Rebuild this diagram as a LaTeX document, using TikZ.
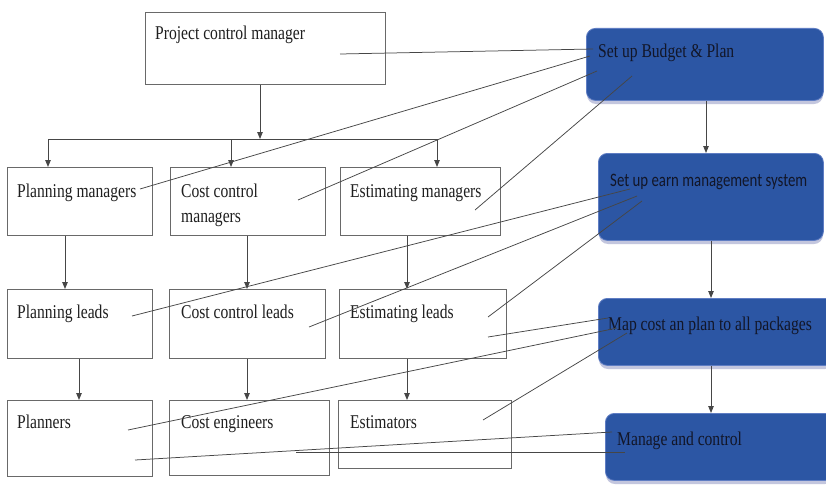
\documentclass[tikz,border=0pt]{standalone}
\usepackage{fontspec}
\usetikzlibrary{arrows.meta}
\newfontfamily\orgfont[FakeStretch=0.8]{Liberation Serif}
\newfontfamily\orgsans[FakeStretch=0.78]{Carlito}
\definecolor{boxline}{RGB}{105,105,105}
\definecolor{linkgrey}{RGB}{70,70,70}
\definecolor{stepblue}{RGB}{44,86,164}
\definecolor{stepedge}{RGB}{95,125,195}
\definecolor{stepshade}{RGB}{195,198,222}
\definecolor{steptext}{RGB}{18,22,40}
\tikzset{
  orgbox/.style={draw=boxline, line width=0.9pt, anchor=north west, inner sep=0pt},
  lbl/.style={anchor=base west, inner sep=0pt, font=\orgfont\fontsize{19.5}{25}\selectfont, text=black!88},
  stepbox/.style={fill=stepblue, draw=stepedge, line width=0.8pt, rounded corners=9pt,
    anchor=north west, inner sep=0pt},
  stepshadow/.style={fill=stepshade, rounded corners=9pt},
  steplbl/.style={anchor=base west, inner sep=0pt, font=\orgfont\fontsize{19.5}{25}\selectfont, text=steptext},
  link/.style={draw=linkgrey, line width=0.75pt},
  down/.style={draw=linkgrey, line width=0.9pt, -{Triangle[length=7pt,width=5.5pt]}},
}
\begin{document}
\begin{tikzpicture}[x=1pt,y=-1pt]
\useasboundingbox[fill=white] (0,0) rectangle (826,487);

% ---------- organisation chart ----------
\node[orgbox, minimum width=240pt, minimum height=72pt] (pcm) at (145,12) {};
\node[lbl] (pcmt) at (155,40) {Project control manager};

\node[orgbox, minimum width=145pt, minimum height=68pt] (pm)  at (7,167) {};
\node[orgbox, minimum width=155pt, minimum height=68pt] (ccm) at (170,167) {};
\node[orgbox, minimum width=160pt, minimum height=68pt] (em)  at (340,167) {};
\node[lbl] (pmt)   at (17,197)  {Planning managers};
\node[lbl] (ccmt)  at (181,197) {Cost control};
\node[lbl] (ccmt2) at (181,222) {managers};
\node[lbl] (emt)   at (350,197) {Estimating managers};

\node[orgbox, minimum width=145pt, minimum height=69pt] (pl)  at (7,289) {};
\node[orgbox, minimum width=156pt, minimum height=69pt] (ccl) at (169,289) {};
\node[orgbox, minimum width=167pt, minimum height=69pt] (el)  at (339,289) {};
\node[lbl] (plt)  at (17,318)  {Planning leads};
\node[lbl] (cclt) at (181,318) {Cost control leads};
\node[lbl] (elt)  at (350,318) {Estimating leads};

\node[orgbox, minimum width=145pt, minimum height=76pt] (pln) at (7,400) {};
\node[orgbox, minimum width=160pt, minimum height=75pt] (ce)  at (169,400) {};
\node[orgbox, minimum width=173pt, minimum height=68pt] (est) at (338,400) {};
\node[lbl] (plnt) at (17,428)  {Planners};
\node[lbl] (cet)  at (181,428) {Cost engineers};
\node[lbl] (estt) at (350,428) {Estimators};

% branch below the project control manager
\coordinate (br)  at (260,139);
\coordinate (brl) at (48,139);
\coordinate (brm) at (231,139);
\coordinate (brr) at (437,139);
\draw[down] (pcm.south -| br) -- (br);
\draw[link, line width=0.9pt] (brl) -- (brr);
\draw[down] (brl) -- (brl |- pm.north);
\draw[down] (brm) -- (brm |- ccm.north);
\draw[down] (brr) -- (brr |- em.north);

% managers -> leads -> staff
\coordinate (c1) at (65,0);  \coordinate (c2) at (247,0); \coordinate (c3) at (407,0);
\coordinate (d1) at (79,0);  \coordinate (d2) at (247,0); \coordinate (d3) at (407,0);
\draw[down] (pm.south -| c1)  -- (pl.north -| c1);
\draw[down] (ccm.south -| c2) -- (ccl.north -| c2);
\draw[down] (em.south -| c3)  -- (el.north -| c3);
\draw[down] (pl.south -| d1)  -- (pln.north -| d1);
\draw[down] (ccl.south -| d2) -- (ce.north -| d2);
\draw[down] (el.south -| d3)  -- (est.north -| d3);

% ---------- process steps ----------
\fill[stepshadow] (587,32) rectangle (823,104);
\fill[stepshadow] (599,157) rectangle (823,244);
\fill[stepshadow] (599,302) rectangle (834,369);
\fill[stepshadow] (606,417) rectangle (834,484);
\node[stepbox, minimum width=237pt, minimum height=72pt] (b1) at (586,28) {};
\node[stepbox, minimum width=225pt, minimum height=87pt] (b2) at (598,153) {};
\node[stepbox, minimum width=236pt, minimum height=67pt] (b3) at (598,298) {};
\node[stepbox, minimum width=229pt, minimum height=67pt] (b4) at (605,413) {};
\node[steplbl] (b1t) at (598,58)  {Set up Budget \& Plan};
\node[steplbl, font=\orgsans\fontsize{19}{24}\selectfont] (b2t) at (610,186) {Set up earn management system};
\node[steplbl] (b3t) at (608,330) {Map cost an plan to all packages};
\node[steplbl] (b4t) at (617,445) {Manage and control};

\coordinate (sx) at (706,0);
\coordinate (tx) at (711,0);
\draw[down] (b1.south -| sx) -- (b2.north -| sx);
\draw[down] (b2.south -| tx) -- (b3.north -| tx);
\draw[down] (b3.south -| tx) -- (b4.north -| tx);

% ---------- responsibility links ----------
\coordinate (pcm-o) at (340,54);  \coordinate (b1-a) at (593,49);
\coordinate (pm-o)  at (140,189); \coordinate (b1-b) at (590,56);
\coordinate (ccm-o) at (298,200); \coordinate (b1-c) at (597,71);
\coordinate (em-o)  at (475,210); \coordinate (b1-d) at (632,76);
\draw[link] (pcm-o) -- (b1-a);
\draw[link] (pm-o)  -- (b1-b);
\draw[link] (ccm-o) -- (b1-c);
\draw[link] (em-o)  -- (b1-d);

\coordinate (pl-o)  at (132,316); \coordinate (b2-a) at (630,189);
\coordinate (ccl-o) at (309,327); \coordinate (b2-b) at (637,196);
\coordinate (el-o)  at (488,317); \coordinate (b2-c) at (642,201);
\draw[link] (pl-o)  -- (b2-a);
\draw[link] (ccl-o) -- (b2-b);
\draw[link] (el-o)  -- (b2-c);

\coordinate (el-p)  at (488,337); \coordinate (b3-a) at (608,318);
\coordinate (pln-o) at (128,430); \coordinate (b3-b) at (617,328);
\coordinate (est-o) at (483,420); \coordinate (b3-c) at (627,333);
\draw[link] (el-p)  -- (b3-a);
\draw[link] (pln-o) -- (b3-b);
\draw[link] (est-o) -- (b3-c);

\coordinate (pln-p) at (135,460); \coordinate (b4-a) at (612,432);
\coordinate (ce-o)  at (296,452); \coordinate (b4-b) at (625,452);
\draw[link] (pln-p) -- (b4-a);
\draw[link] (ce-o)  -- (b4-b);
\end{tikzpicture}
\end{document}
